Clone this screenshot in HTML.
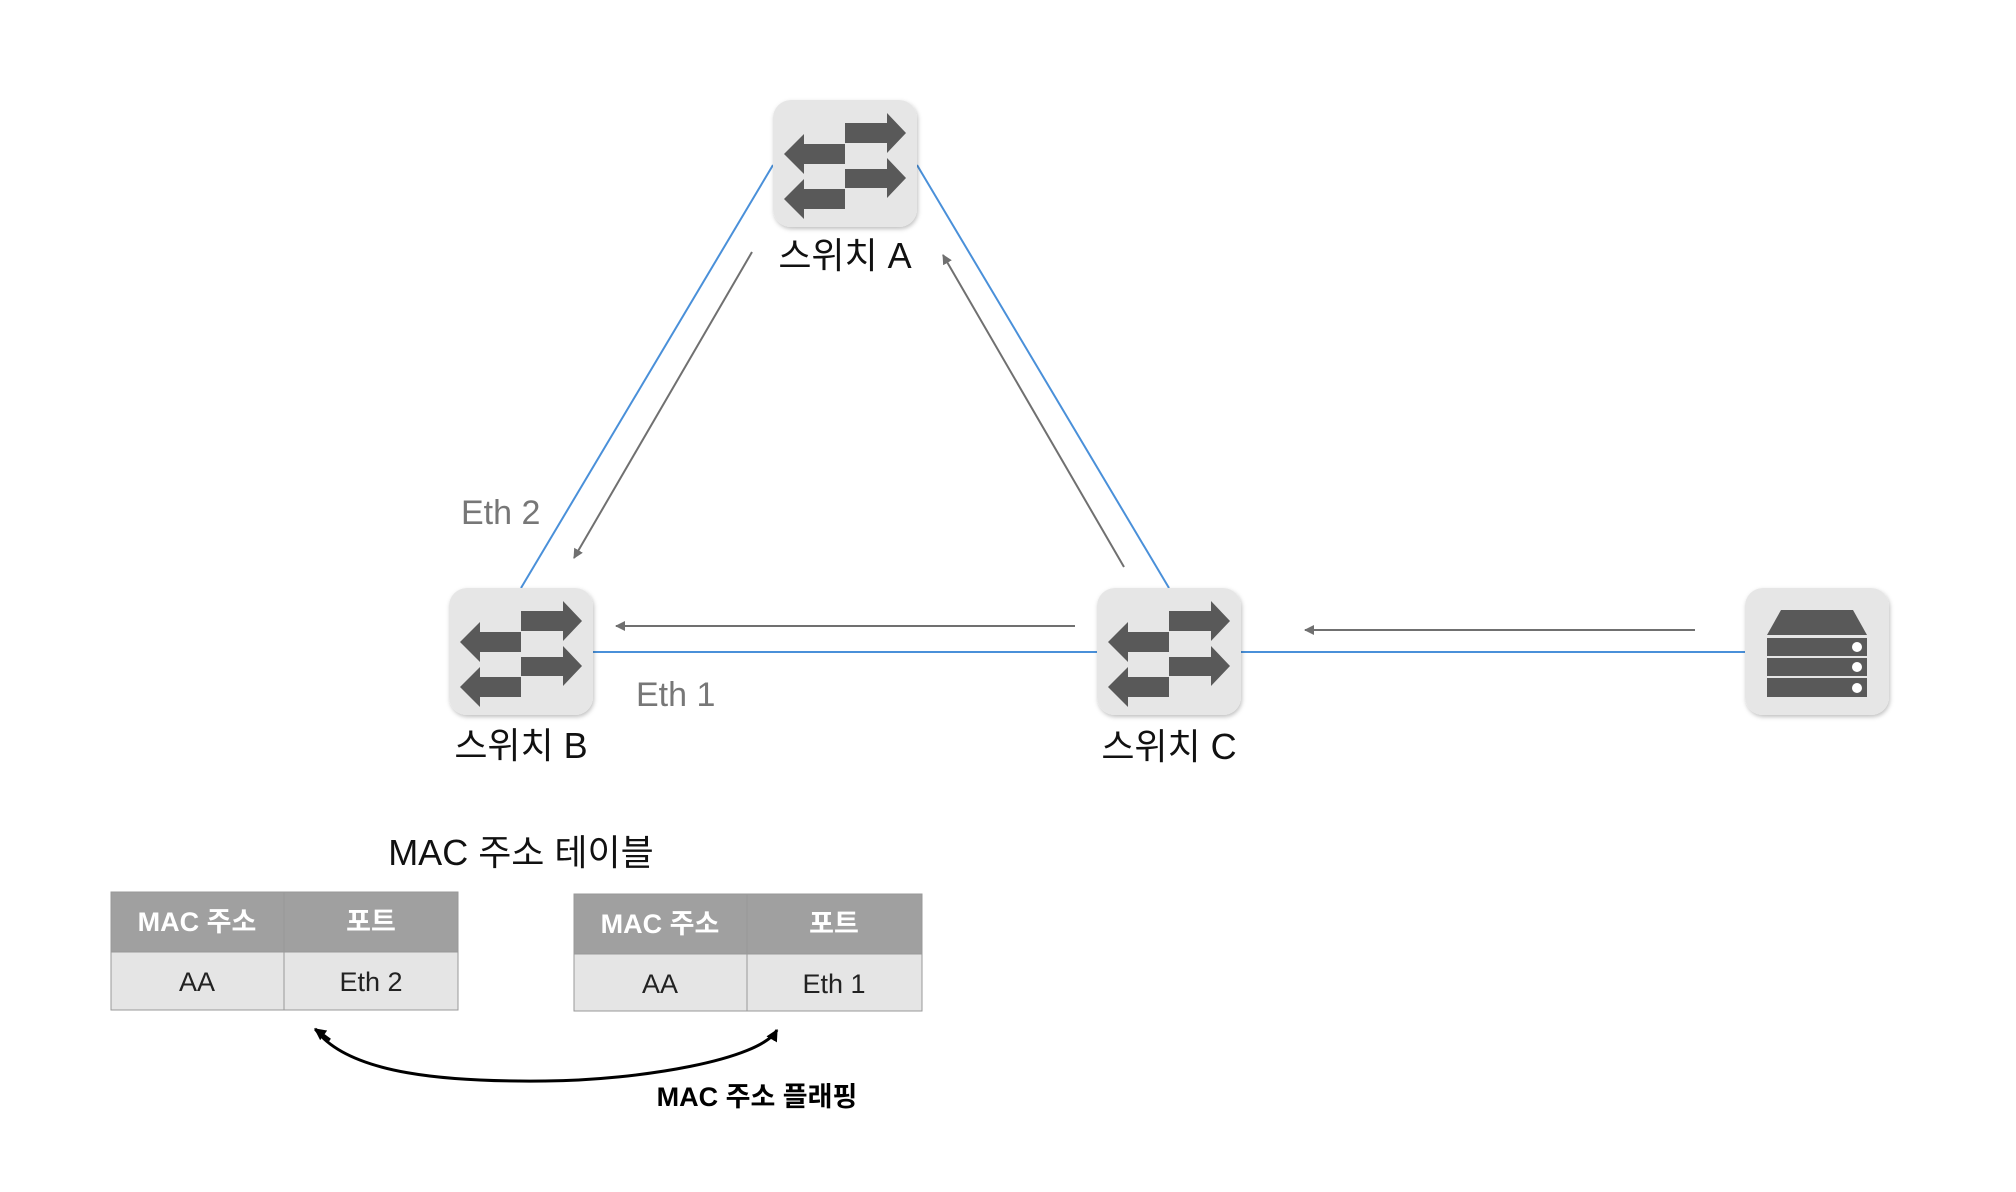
<!DOCTYPE html>
<html><head><meta charset="utf-8"><style>
body{margin:0;background:#fff;}
svg{display:block}
text{font-family:"Liberation Sans","Noto Sans CJK KR",sans-serif;}
</style></head><body>
<svg width="2016" height="1192" viewBox="0 0 2016 1192" xmlns="http://www.w3.org/2000/svg">
<defs>
<marker id="ah" viewBox="0 0 10 10" refX="9" refY="5" markerWidth="5" markerHeight="5" orient="auto"><path d="M0,0L10,5L0,10z" fill="#707070"/></marker>
<marker id="bh" viewBox="0 0 10 10" refX="9" refY="5" markerWidth="4" markerHeight="4" orient="auto"><path d="M0,0L10,5L0,10z" fill="#000"/></marker>
<filter id="sh" x="-10%" y="-10%" width="130%" height="130%"><feDropShadow dx="1" dy="2" stdDeviation="2" flood-color="#000" flood-opacity="0.25"/></filter>
<g id="sw">
<rect x="0" y="0" width="144" height="127" rx="18" fill="#e6e6e6" filter="url(#sh)"/>
<path d="M72,23H114V13L133,33L114,53V43H72Z" fill="#595959"/>
<path d="M72,44H31V34L11,54L31,74V64H72Z" fill="#595959"/>
<path d="M72,69H114V58L133,78L114,98V88H72Z" fill="#595959"/>
<path d="M72,89H31V79L11,99L31,119V109H72Z" fill="#595959"/>
</g>
</defs>
<g stroke="#4a90d9" stroke-width="2" fill="none">
<line x1="773" y1="165" x2="521" y2="588"/>
<line x1="917" y1="165" x2="1169" y2="588"/>
<line x1="593" y1="652" x2="1097" y2="652"/>
<line x1="1241" y1="652" x2="1745" y2="652"/>
</g>
<g stroke="#707070" stroke-width="2" fill="none" marker-end="url(#ah)">
<line x1="752" y1="252" x2="574" y2="558"/>
<line x1="1124" y1="567" x2="943" y2="255"/>
<line x1="1075" y1="626" x2="616" y2="626"/>
<line x1="1695" y1="630" x2="1305" y2="630"/>
</g>
<use href="#sw" x="773" y="100"/>
<use href="#sw" x="449" y="588"/>
<use href="#sw" x="1097" y="588"/>
<rect x="1745" y="588" width="144" height="127" rx="18" fill="#e6e6e6" filter="url(#sh)"/>
<path d="M1781,610H1853L1867,635H1767Z" fill="#595959"/>
<rect x="1767" y="638" width="100" height="18" fill="#595959"/>
<rect x="1767" y="658" width="100" height="18" fill="#595959"/>
<rect x="1767" y="678" width="100" height="19" fill="#595959"/>
<circle cx="1857" cy="647" r="5" fill="#fff"/><circle cx="1857" cy="667" r="5" fill="#fff"/><circle cx="1857" cy="688" r="5" fill="#fff"/>
<g font-size="36" fill="#111" text-anchor="middle">
<text x="845" y="268">스위치 A</text>
<text x="521" y="758">스위치 B</text>
<text x="1169" y="759">스위치 C</text>
<text x="521" y="865">MAC 주소 테이블</text>
</g>
<g font-size="34" fill="#777">
<text x="461" y="524">Eth 2</text>
<text x="636" y="706">Eth 1</text>
</g>
<g stroke="#999" stroke-width="1">
<rect x="111" y="892" width="347" height="60" fill="#a0a0a0"/>
<rect x="111" y="952" width="347" height="58" fill="#e5e5e5"/>
<line x1="284" y1="892" x2="284" y2="1010"/>
<rect x="574" y="894" width="348" height="60" fill="#a0a0a0"/>
<rect x="574" y="954" width="348" height="57" fill="#e5e5e5"/>
<line x1="747" y1="894" x2="747" y2="1011"/>
</g>
<g font-size="27" text-anchor="middle">
<text x="197" y="931" fill="#fff" font-weight="bold">MAC 주소</text>
<text x="371" y="931" fill="#fff" font-weight="bold">포트</text>
<text x="197" y="991" fill="#222">AA</text>
<text x="371" y="991" fill="#222">Eth 2</text>
<text x="660" y="933" fill="#fff" font-weight="bold">MAC 주소</text>
<text x="834" y="933" fill="#fff" font-weight="bold">포트</text>
<text x="660" y="993" fill="#222">AA</text>
<text x="834" y="993" fill="#222">Eth 1</text>
</g>
<path d="M316,1030C350,1075 450,1082 545,1081C640,1080 760,1060 777,1030" stroke="#000" stroke-width="3" fill="none" marker-end="url(#bh)"/>
<path d="M330,1040L315,1029" stroke="#000" stroke-width="3" marker-end="url(#bh)"/>
<text x="757" y="1106" font-size="27" font-weight="bold" text-anchor="middle" fill="#000">MAC 주소 플래핑</text>
</svg>
</body></html>
